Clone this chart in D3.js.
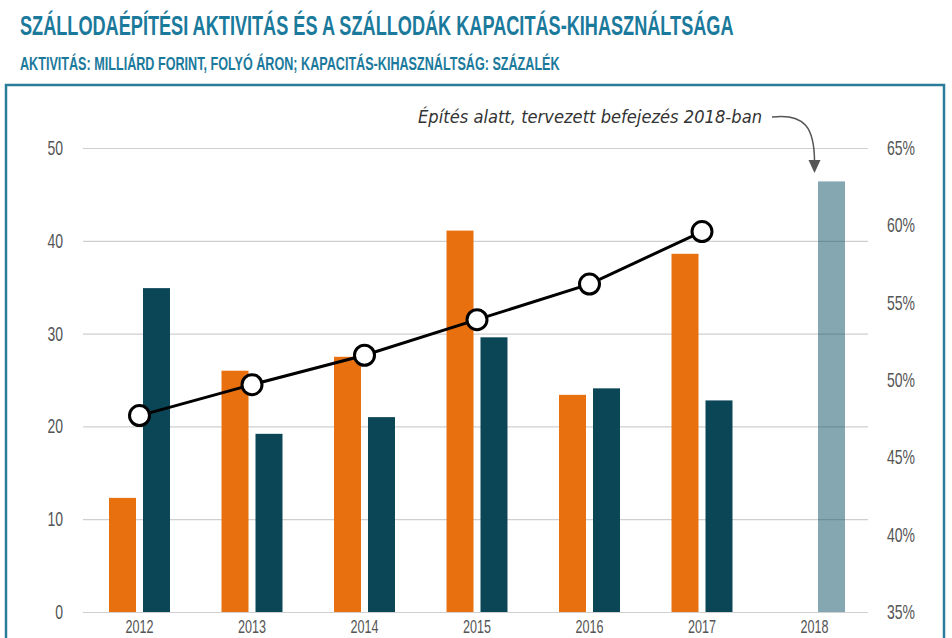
<!DOCTYPE html>
<html><head><meta charset="utf-8">
<script src="https://cdn.jsdelivr.net/npm/d3@7"></script>
<style>
html,body{margin:0;padding:0;background:#fff;}
svg{display:block;}
</style></head>
<body>
<svg id="chart" width="952" height="638"></svg>
<script>
const years = ["2012","2013","2014","2015","2016","2017","2018"];
const orangeVals = [12.3, 26.0, 27.5, 41.1, 23.4, 38.6, null];
const tealVals = [34.9, 19.2, 21.0, 29.6, 24.1, 22.8, null];
const plannedVals = [null, null, null, null, null, null, 46.4];
const occupancy = [47.7, 49.7, 51.6, 53.9, 56.2, 59.6];
const leftTicks = [0, 10, 20, 30, 40, 50];
const rightTicks = [35, 40, 45, 50, 55, 60, 65];
const titleText = "SZÁLLODAÉPÍTÉSI AKTIVITÁS ÉS A SZÁLLODÁK KAPACITÁS-KIHASZNÁLTSÁGA";
const subtitleText = "AKTIVITÁS: MILLIÁRD FORINT, FOLYÓ ÁRON; KAPACITÁS-KIHASZNÁLTSÁG: SZÁZALÉK";
const noteText = "Építés alatt, tervezett befejezés 2018-ban";

const svg = d3.select("#chart");
const sans = "'Liberation Sans','Roboto',sans-serif";
const labelScale = 0.7;

// Condensed heading text: natural font scaled horizontally to target width
function squeezed(text, x, y, size, width) {
  const g = svg.append("g");
  const t = g.append("text").attr("x", 0).attr("y", 0)
    .attr("font-family", sans).attr("font-weight", "bold").attr("font-size", size)
    .attr("fill", "#1b7a9c").text(text);
  const natural = t.node().getComputedTextLength();
  g.attr("transform", `translate(${x},${y}) scale(${width / natural},1)`);
}
squeezed(titleText, 20, 35, 28, 714);
squeezed(subtitleText, 20, 70, 18, 540);

// Frame
svg.append("rect").attr("x", 6).attr("y", 85).attr("width", 938).attr("height", 600)
  .attr("fill", "none").attr("stroke", "#2b7c99").attr("stroke-width", 2.5);

// Scales
const x0 = d3.scaleBand().domain(years).range([83.25, 870.75]).paddingInner(0.458).paddingOuter(0.229);
const x1 = d3.scaleBand().domain(["o","t"]).range([0, x0.bandwidth()]).paddingInner(0.206);
const yL = d3.scaleLinear().domain([0, 50]).range([612, 148]);
const yR = d3.scaleLinear().domain([35, 65]).range([612, 148]);

// Grid (left axis)
const gridAxis = d3.axisLeft(yL).tickValues(leftTicks).tickSize(-(868 - 83)).tickFormat("");
const grid = svg.append("g").attr("transform", "translate(83,0)").call(gridAxis);
grid.select(".domain").remove();
grid.selectAll("line").attr("stroke", "#cfcfcf").attr("stroke-width", 1.2);

function styleLabels(g, size) {
  g.select(".domain").remove();
  g.selectAll("text").attr("font-family", sans).attr("font-size", size).attr("fill", "#555")
    .attr("transform", `scale(${labelScale},1)`);
}

// Left labels
const gl = svg.append("g").attr("transform", "translate(63,0)")
  .call(d3.axisLeft(yL).tickValues(leftTicks).tickSize(0).tickPadding(0));
styleLabels(gl, 20);

// Right labels
const gr = svg.append("g").attr("transform", "translate(887,0)")
  .call(d3.axisRight(yR).tickValues(rightTicks).tickSize(0).tickPadding(0).tickFormat(d => d + "%"));
styleLabels(gr, 20);

// Bottom year labels
const gb = svg.append("g").attr("transform", "translate(0,620)")
  .call(d3.axisBottom(x0).tickSize(0).tickPadding(0));
styleLabels(gb, 18);

// Bars
const bars = svg.append("g");
years.forEach((yr, i) => {
  if (orangeVals[i] != null) {
    bars.append("rect").attr("x", x0(yr) + x1("o")).attr("width", x1.bandwidth())
      .attr("y", yL(orangeVals[i])).attr("height", yL(0) - yL(orangeVals[i])).attr("fill", "#e8700e");
  }
  if (tealVals[i] != null) {
    bars.append("rect").attr("x", x0(yr) + x1("t")).attr("width", x1.bandwidth())
      .attr("y", yL(tealVals[i])).attr("height", yL(0) - yL(tealVals[i])).attr("fill", "#0b4657");
  }
  if (plannedVals[i] != null) {
    bars.append("rect").attr("x", x0(yr) + x1("t")).attr("width", x1.bandwidth())
      .attr("y", yL(plannedVals[i])).attr("height", yL(0) - yL(plannedVals[i]))
      .attr("fill", "#0b4f63").attr("fill-opacity", 0.5);
  }
});

// Line
const cx = d => x0(d) + x0.bandwidth() / 2;
const lineData = occupancy.map((v, i) => ({ yr: years[i], v }));
svg.append("path").datum(lineData)
  .attr("d", d3.line().x(d => cx(d.yr)).y(d => yR(d.v)))
  .attr("fill", "none").attr("stroke", "#000").attr("stroke-width", 3);
svg.append("g").selectAll("circle").data(lineData).join("circle")
  .attr("cx", d => cx(d.yr)).attr("cy", d => yR(d.v)).attr("r", 10)
  .attr("fill", "#fff").attr("stroke", "#000").attr("stroke-width", 3);

// Annotation
svg.append("text").attr("x", 418).attr("y", 123)
  .attr("font-family", "'DejaVu Sans','Noto Sans',sans-serif").attr("font-style", "italic")
  .attr("font-size", 17).attr("fill", "#333")
  .attr("textLength", 344).attr("lengthAdjust", "spacingAndGlyphs")
  .text(noteText);
const ax = cx("2018");
svg.append("path")
  .attr("d", `M772,117 C805,113 ${ax},128 ${ax},162`)
  .attr("fill", "none").attr("stroke", "#555").attr("stroke-width", 1.5);
svg.append("path")
  .attr("d", `M${ax - 6},160 L${ax + 6},160 L${ax},173 Z`)
  .attr("fill", "#555");
</script>
</body></html>
